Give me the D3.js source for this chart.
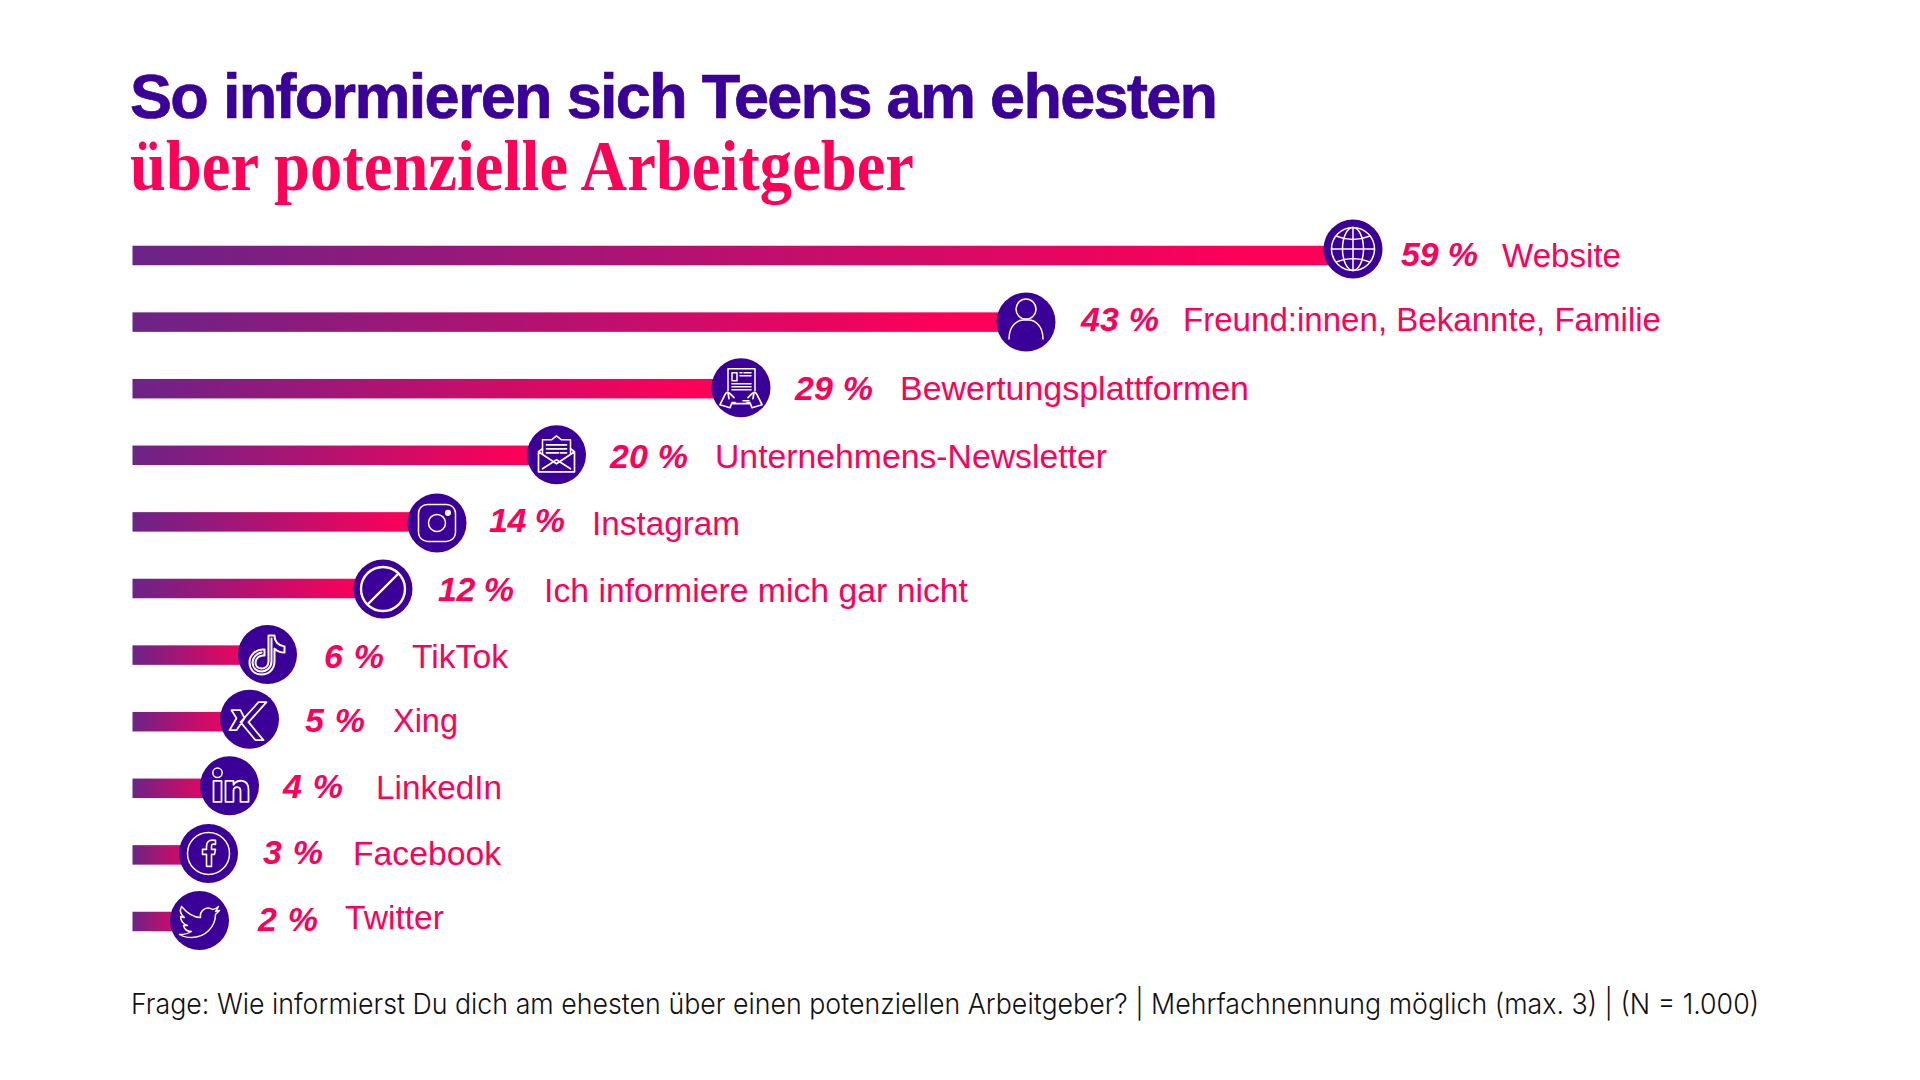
<!DOCTYPE html>
<html lang="de">
<head>
<meta charset="utf-8">
<title>So informieren sich Teens</title>
<script src="https://d3js.org/d3.v7.min.js"></script>
<style>
html,body{margin:0;padding:0;background:#fff}
svg{display:block}
</style>
</head>
<body>
<svg id="chart" width="1920" height="1080"></svg>
<script>
// ---- data ----
const categories = ["Website","Freund:innen, Bekannte, Familie","Bewertungsplattformen","Unternehmens-Newsletter","Instagram","Ich informiere mich gar nicht","TikTok","Xing","LinkedIn","Facebook","Twitter"];
const values = [59,43,29,20,14,12,6,5,4,3,2];
const iconKeys = ["globe","person","review","mail","insta","none","tiktok","xing","linkedin","facebook","twitter"];
const titleLine1 = "So informieren sich Teens am ehesten";
const titleLine2 = "über potenzielle Arbeitgeber";
const footnote = "Frage: Wie informierst Du dich am ehesten über einen potenziellen Arbeitgeber? | Mehrfachnennung möglich (max. 3) | (N = 1.000)";

// ---- layout (the original is hand-placed, so the value axis is piecewise) ----
const X0 = 132.5;
const valueStops = [0,2,3,4,5,6,12,14,20,29,43,59];
const pixelStops = [X0,199.5,208.5,229.5,249.5,267.5,383,437,556.5,741,1026,1353];
const x = d3.scaleLinear().domain(valueStops).range(pixelStops);
const y = d3.scalePoint().domain(categories).range([255.5,921.5]);
const iconDy = [-6.5,0,-1,-0.5,1,0.5,-0.5,-2.5,-2.5,-1.5,-1];
const pctX = [1401,1081,795,610,489,438,324,305,283,263,258];
const pctW = [77,78,78,78,76,76,60,60,60,60,60];
const labelX = [1502,1183,900,715,592,544,412,393,376,353,345];
const labelW = [119,478,349,392,148,424,96,65,126,148,99];
const pctBase = [266,331,400,468,532,601,668,732,798,864,931];
const labelBase = [266.5,331,400,468,534.5,601.5,668,731.5,798.5,865,929];

const PURPLE = "#3a0098", PINK = "#ff0058";
const svg = d3.select("#chart");
const defs = svg.append("defs");
const grad = defs.append("linearGradient").attr("id","barGrad");
grad.append("stop").attr("offset","0%").attr("stop-color","#6c2387");
grad.append("stop").attr("offset","92%").attr("stop-color",PINK);
grad.append("stop").attr("offset","100%").attr("stop-color",PINK);

// ---- title ----
svg.append("text").attr("x",130).attr("y",118).attr("textLength",1088).attr("lengthAdjust","spacing")
  .attr("font-family","'Liberation Sans',Arial,sans-serif").attr("font-weight",700).attr("font-size",63)
  .attr("fill",PURPLE).attr("stroke",PURPLE).attr("stroke-width",0.7).text(titleLine1);
svg.append("text").attr("x",130).attr("y",190).attr("textLength",784).attr("lengthAdjust","spacingAndGlyphs")
  .attr("font-family","'Liberation Serif',serif").attr("font-weight",700).attr("font-size",71).attr("fill",PINK).text(titleLine2);

// ---- icons, drawn in a local frame around the circle centre ----
const icons = {
  globe(g){
    g.append("circle").attr("r",21.5);
    g.append("ellipse").attr("rx",10.5).attr("ry",21.5);
    g.append("path").attr("d","M0,-21.5V21.5M-21.5,0H21.5M-17,-13Q0,-6 17,-13M-17,13Q0,6 17,13");
  },
  person(g){
    g.append("circle").attr("cy",-13).attr("r",10);
    g.append("path").attr("d","M-17,17C-17,3 -8,-2 -3,-2H3C8,-2 17,3 17,17");
  },
  review(g){
    g.append("path").attr("d","M-13,3V-19H14V3");
    g.append("rect").attr("x",-9).attr("y",-15).attr("width",5).attr("height",8);
    g.append("path").attr("d","M-1,-15H1M3,-15H10M-1,-12H10M-9,-4H10M-9,-1H10M-9,2H10M2,13H8").attr("stroke-width",1.6);
    g.append("path").attr("stroke-width",1.7).attr("d","M-21,17L-16,7C-15,4 -13,4 -11,6L-7,10M-21,17L-11,20L-9,15H-6M-13,5L-12,11M-8,16H8M21,17L16,7C15,4 13,4 11,6L7,10M21,17L11,20L9,15H6M13,5L12,11");
  },
  mail(g){
    g.append("path").attr("d","M-14,-1V-15H-5L0,-19L5,-15H14V-1");
    g.append("path").attr("stroke-width",1.7).attr("d","M-10,-10H10M-10,-6H10M-10,-2H2M4,-2H10");
    g.append("path").attr("stroke-width",1.7).attr("d","M-14,-6L-18,-3V17H18V-3L14,-6M-18,-3L0,9L18,-3M-14,14L0,5L14,14");
  },
  insta(g){
    g.append("rect").attr("x",-18.5).attr("y",-18.5).attr("width",37).attr("height",37).attr("rx",9);
    g.append("circle").attr("r",8.5);
    g.append("circle").attr("cx",11).attr("cy",-10).attr("r",2.3).attr("fill","#fff");
  },
  none(g){
    g.append("circle").attr("r",22).attr("stroke-width",2.4);
    g.append("path").attr("d","M-15,15L15,-15").attr("stroke-width",2.4);
  },
  tiktok(g){
    g.append("path").attr("stroke-width",2)
      .attr("d","M1,-19H7C7,-13 11,-9 17,-8V-2C12,-2 9,-4 7,-6V7C7,15 1,20 -6,20C-14,20 -18,14 -18,8C-18,0 -11,-6 -3,-5V1C-8,0 -12,4 -12,8C-12,12 -9,14 -6,14C-2,14 1,11 1,7Z");
    g.append("path").attr("stroke-width",2).attr("d","M4,-16V7C4,13 -1,17 -6,17C-11,17 -15,13 -15,8C-15,3 -11,-1 -6,-2");
  },
  xing(g){
    g.append("path").attr("stroke-width",1.8).attr("d","M-18,-9H-9L-5,-1L-13,11H-20L-13,-1ZM9,-17H17L-1,3L14,21H6L-9,3Z");
  },
  linkedin(g){
    g.append("circle").attr("cx",-12).attr("cy",-13).attr("r",4.7);
    g.append("path").attr("stroke-width",1.8).attr("d","M-16,-5H-8V16H-16ZM-4,-5H4V-1C8,-7 19,-7 19,4V16H11V5C11,0 4,0 4,5V16H-4Z");
  },
  facebook(g){
    g.append("circle").attr("r",21);
    g.append("path").attr("stroke-width",1.6).attr("d","M-2,13V1H-6V-4H-2V-7C-2,-12 1,-14 7,-13V-9C3,-10 3,-8 3,-7V-4H7L6,1H3V13Z");
  },
  twitter(g){
    g.append("path").attr("stroke-width",1.5)
      .attr("d","M-18,-14C-12,-7 -5,-3 1,-3C0,-10 7,-15 13,-11C15,-11 17,-12 19,-14C18,-12 17,-10 16,-9C17,-9 18,-10 20,-10C18,-8 17,-7 16,-6C16,6 6,17 -8,17C-13,17 -17,16 -20,14C-15,14 -11,13 -8,11C-12,11 -15,9 -16,5C-15,5 -14,5 -12,5C-16,4 -19,0 -19,-4C-18,-4 -16,-3 -15,-3C-19,-6 -20,-10 -18,-14Z");
  }
};

// ---- rows ----
const rows = svg.append("g").selectAll("g").data(values).join("g");
rows.append("rect")
  .attr("x",X0)
  .attr("y",(d,i)=>y(categories[i])-9.75)
  .attr("width",d=>x(d)-X0)
  .attr("height",19.5)
  .attr("fill","url(#barGrad)");
const badge = rows.append("g")
  .attr("transform",(d,i)=>`translate(${x(d)},${y(categories[i])+iconDy[i]})`);
badge.append("circle").attr("r",29.5).attr("fill",PURPLE);
badge.append("g").attr("fill","none").attr("stroke","#fff").attr("stroke-width",1.5)
  .attr("stroke-linejoin","round").attr("stroke-linecap","round")
  .each(function(d,i){ icons[iconKeys[i]](d3.select(this)); });
rows.append("text")
  .attr("x",(d,i)=>pctX[i]).attr("y",(d,i)=>pctBase[i])
  .attr("textLength",(d,i)=>pctW[i]).attr("lengthAdjust","spacing")
  .attr("font-family","'Liberation Sans',Arial,sans-serif").attr("font-weight",700).attr("font-style","italic")
  .attr("font-size",34).attr("fill",PINK)
  .text(d=>d+" %");
rows.append("text")
  .attr("x",(d,i)=>labelX[i]).attr("y",(d,i)=>labelBase[i])
  .attr("textLength",(d,i)=>labelW[i]).attr("lengthAdjust","spacingAndGlyphs")
  .attr("font-family","'Liberation Sans',Arial,sans-serif")
  .attr("font-size",33).attr("fill",PINK)
  .text((d,i)=>categories[i]);

// ---- footnote ----
svg.append("text").attr("x",131).attr("y",1014).attr("textLength",1628).attr("lengthAdjust","spacingAndGlyphs")
  .attr("font-family","Inter,'Liberation Sans',sans-serif").attr("font-weight",300).attr("font-size",29).attr("fill","#111").text(footnote);
</script>
</body>
</html>
